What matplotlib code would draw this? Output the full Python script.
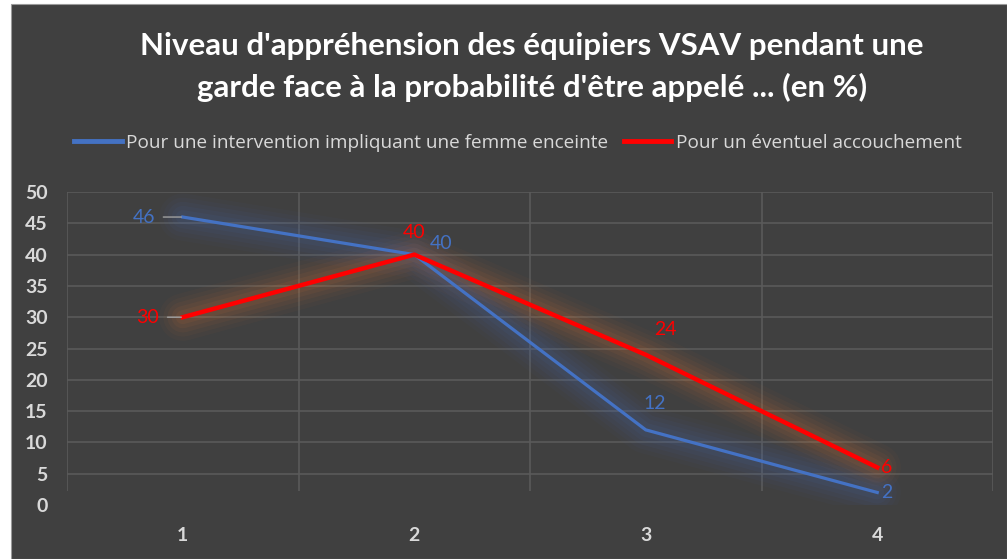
import matplotlib.pyplot as plt
from matplotlib.patches import Rectangle

plt.rcParams['font.family'] = ['Lato', 'DejaVu Sans']

# Données du graphique
categories = [1, 2, 3, 4]
femme_enceinte = [46, 40, 12, 2]
accouchement = [30, 40, 24, 6]
graduations_y = list(range(0, 51, 5))

label_femme = "Pour une intervention impliquant une femme enceinte"
label_accouchement = "Pour un éventuel accouchement"
titre = "Niveau d'appréhension des équipiers VSAV pendant une\ngarde face à la probabilité d'être appelé ... (en %)"

BG = '#404040'
GRID = '#5a5a5a'
TXT = '#d9d9d9'
BLEU = '#4472C4'
ROUGE = '#FF0000'

fig = plt.figure(figsize=(10.07, 5.59), dpi=100, facecolor='white')
fig.patches.append(Rectangle((11 / 1007, 0), 1 - 11 / 1007, 1 - 4 / 559,
                             transform=fig.transFigure, facecolor=BG,
                             edgecolor='#9a9a9a', linewidth=0.8, zorder=-10))

ax = fig.add_axes([67 / 1007, 1 - 505 / 559, 926 / 1007, 313 / 559])
ax.set_facecolor(BG)
ax.set_xlim(0.5, 4.5)
ax.set_ylim(0, 50)

# quadrillage
for y in graduations_y[1:]:
    ax.axhline(y, color=GRID, lw=1.2, zorder=1)
for x in [0.5, 1.5, 2.5, 3.5, 4.5]:
    ax.vlines(x, 2.3, 50, color=GRID, lw=1.2, zorder=1)

ax.set_xticks(categories, labels=[str(c) for c in categories],
              fontweight='bold')
ax.set_yticks(graduations_y, labels=[str(v) for v in graduations_y],
              fontweight='bold')
ax.tick_params(length=0, colors=TXT, labelsize=14)
ax.tick_params(axis='y', pad=14)
ax.tick_params(axis='x', pad=16)
for s in ax.spines.values():
    s.set_visible(False)

# effet de lueur sous les courbes
for lw, a in [(34, 0.03), (28, 0.04), (22, 0.05), (16, 0.06), (10, 0.07)]:
    ax.plot(categories, femme_enceinte, color=BLEU, lw=lw, alpha=a,
            solid_capstyle='round', solid_joinstyle='round', zorder=2)
    ax.plot(categories, accouchement, color='#ED7D31', lw=lw, alpha=a,
            solid_capstyle='round', solid_joinstyle='round', zorder=2)

ax.plot(categories, femme_enceinte, color=BLEU, lw=2.3, zorder=4,
        label=label_femme)
ax.plot(categories, accouchement, color=ROUGE, lw=3.2, zorder=5,
        label=label_accouchement)

# étiquettes de données
def etiquette(x, y, couleur, dx, dy, ha='center', leader=False):
    kw = {}
    if leader:
        kw['arrowprops'] = dict(arrowstyle='-', color='#a0a0a0', lw=1,
                                shrinkA=4, shrinkB=1)
    ax.annotate(f"{y}", (x, y), xytext=(dx, dy), textcoords='offset points',
                ha=ha, va='center', color=couleur, fontsize=14, zorder=6,
                **kw)

etiquette(categories[0], femme_enceinte[0], BLEU, -20, 0, 'right', True)
etiquette(categories[1], femme_enceinte[1], BLEU, 19, 8)
etiquette(categories[2], femme_enceinte[2], BLEU, 6.5, 19)
etiquette(categories[3], femme_enceinte[3], BLEU, 3, 0, 'left')

etiquette(categories[0], accouchement[0], ROUGE, -17, 0, 'right', True)
etiquette(categories[1], accouchement[1], ROUGE, 0, 16)
etiquette(categories[2], accouchement[2], ROUGE, 14, 18)
etiquette(categories[3], accouchement[3], ROUGE, 3, 0, 'left')

fig.text(532 / 1007, 1 - 67 / 559, titre, ha='center', va='center',
         color='white', fontsize=22.5, fontweight='bold', linespacing=1.5)

leg = fig.legend(loc='center', bbox_to_anchor=(518 / 1007, 1 - 143 / 559),
                 ncol=2, frameon=False, prop={'family': 'Open Sans', 'size': 13.7},
                 labelcolor=TXT, handlelength=2.5, handletextpad=0.25,
                 columnspacing=0.8)
for h in leg.get_lines():
    h.set_linewidth(3.5)

fig.savefig('out.png', dpi=100, facecolor=fig.get_facecolor())
